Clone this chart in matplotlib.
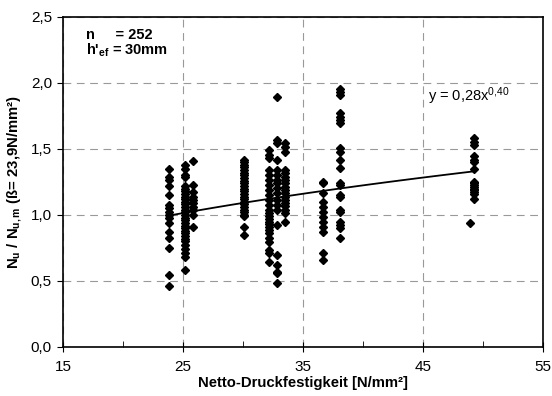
import numpy as np
import matplotlib
matplotlib.use("Agg")
import matplotlib.pyplot as plt
from matplotlib.ticker import FuncFormatter, MultipleLocator

plt.rcParams['font.family'] = ['Liberation Sans', 'DejaVu Sans']
plt.rcParams['mathtext.fontset'] = 'custom'
plt.rcParams['mathtext.rm'] = 'Liberation Sans'
plt.rcParams['mathtext.bf'] = 'Liberation Sans:bold'
plt.rcParams['mathtext.it'] = 'Liberation Sans:italic'

# Netto-Druckfestigkeit groups (x) and normalised loads (y)
x_groups = [23.85, 25.17, 25.8, 30.1, 32.2, 32.86, 33.5, 36.7, 38.1, 49.25, 48.9]
y_groups = [
    [1.35, 1.29, 1.265, 1.22, 1.15, 1.076, 1.05, 1.025, 1.0, 0.975, 0.94,
     0.874, 0.823, 0.747, 0.545, 0.462],
    [1.38, 1.35, 1.30, 1.285, 1.22, 1.20, 1.18, 1.16, 1.14, 1.12, 1.10, 1.08,
     1.06, 1.04, 1.02, 1.00, 0.98, 0.96, 0.94, 0.92, 0.90, 0.88, 0.86, 0.84,
     0.82, 0.80, 0.77, 0.74, 0.71, 0.68, 0.58],
    [1.41, 1.227, 1.177, 1.139, 1.114, 1.089, 1.063, 1.038, 1.0, 0.911],
    [1.42, 1.40, 1.38, 1.36, 1.34, 1.32, 1.30, 1.28, 1.26, 1.24, 1.22, 1.20,
     1.18, 1.16, 1.14, 1.12, 1.10, 1.08, 1.06, 1.04, 1.02, 1.00, 0.99, 0.91,
     0.85],
    [1.49, 1.455, 1.43, 1.341, 1.303, 1.265, 1.227, 1.189, 1.152, 1.114, 1.076,
     1.038, 1.013, 0.99, 0.97, 0.95, 0.93, 0.91, 0.89, 0.86, 0.823, 0.797,
     0.735, 0.71, 0.646],
    [1.896, 1.568, 1.543, 1.417, 1.341, 1.303, 1.265, 1.24, 1.202, 1.164,
     1.114, 1.076, 1.038, 0.924, 0.697, 0.621, 0.571, 0.558, 0.482],
    [1.543, 1.518, 1.48, 1.341, 1.316, 1.29, 1.265, 1.24, 1.215, 1.19, 1.165,
     1.14, 1.115, 1.09, 1.065, 1.04, 1.013, 0.95],
    [1.252, 1.24, 1.164, 1.101, 1.063, 1.025, 0.987, 0.949, 0.911, 0.874,
     0.71, 0.659],
    [1.952, 1.934, 1.909, 1.77, 1.745, 1.72, 1.694, 1.505, 1.48, 1.417, 1.354,
     1.24, 1.227, 1.152, 1.139, 1.038, 1.025, 0.949, 0.924, 0.899, 0.823],
    [1.58, 1.555, 1.53, 1.45, 1.42, 1.40, 1.35, 1.25, 1.24, 1.225, 1.21, 1.20,
     1.19, 1.175, 1.16, 1.12],
    [0.94],
]
fit_a = 0.28
fit_b = 0.40
x_major = [15, 25, 35, 45, 55]
x_minor = [20, 30, 40, 50]

xs = np.concatenate([[gx] * len(gy) for gx, gy in zip(x_groups, y_groups)])
ys = np.concatenate(y_groups)

fig = plt.figure(figsize=(5.52, 3.96), dpi=100)
ax = fig.add_axes([63 / 552, 49 / 396, 480 / 552, 330 / 396])

ax.plot(xs, ys, linestyle='none', marker='D', markersize=3.7,
        color='black', zorder=3)

xf = np.linspace(xs.min(), xs.max(), 100)
ax.plot(xf, fit_a * xf ** fit_b, color='black', linewidth=1.3, zorder=4)

ax.set_xlim(15, 55)
ax.set_ylim(0, 2.5)
ax.set_xticks(x_major)
ax.set_xticks(x_minor, minor=True)
ax.yaxis.set_major_locator(MultipleLocator(0.5))
ax.yaxis.set_major_formatter(FuncFormatter(lambda v, p: f'{v:.1f}'.replace('.', ',')))
ax.grid(True, which='major', color='#999999', linestyle=(0, (7, 5)), linewidth=0.8)
ax.tick_params(axis='x', which='major', direction='inout', length=7, pad=6, labelsize=11)
ax.tick_params(axis='x', which='minor', direction='in', length=4)
ax.tick_params(axis='y', which='major', direction='out', length=4, pad=4, labelsize=11)
for s in ax.spines.values():
    s.set_linewidth(1.2)

ax.set_xlabel('Netto-Druckfestigkeit [N/mm²]', fontsize=10.7, fontweight='bold', labelpad=1)
ax.set_ylabel(r'$\mathbf{N_u}$ / $\mathbf{N_{u,m}}$ (ß= 23,9N/mm²)',
              fontsize=10.7, fontweight='bold', labelpad=5)

ax.text(16.9, 2.36, 'n     = 252', fontsize=10.5, fontweight='bold', va='center')
ax.text(16.9, 2.25, r"h'$_{\mathbf{ef}}$ = 30mm", fontsize=10.5, fontweight='bold', va='center')
ax.text(45.4, 1.90, r'y = 0,28x$^{\mathrm{0{,}40}}$', fontsize=10.5, va='center')

fig.savefig('out.png', dpi=100)
